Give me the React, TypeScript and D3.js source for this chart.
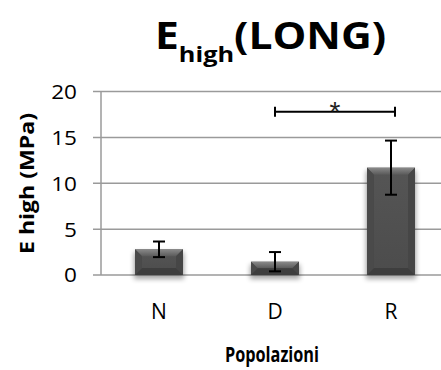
import React from "react";
import * as d3 from "d3";

const categories = ["N", "D", "R"];
const means = [2.8, 1.45, 11.7];
const errors = [0.85, 1.05, 2.95];
const yTicks = [0, 5, 10, 15, 20];
const sigFrom = "D";
const sigTo = "R";
const sigLevel = 17.8;
const sigLabel = "*";

const W = 441;
const H = 370;

export default function App() {
  const y = d3.scaleLinear().domain([0, 20]).range([275, 91.5]);
  const x = d3
    .scaleBand<string>()
    .domain(categories)
    .range([101, 449])
    .paddingInner(0.586)
    .paddingOuter(0.293);
  const bw = x.bandwidth();
  const bev = 7;
  const font = "'Open Sans', sans-serif";

  return (
    <svg width={W} height={H} style={{ display: "block", position: "absolute", left: 0, top: 0 }}>
      <defs>
        <filter id="shadow" x="-30%" y="-30%" width="160%" height="160%">
          <feGaussianBlur stdDeviation="2.5" />
        </filter>
        <linearGradient id="topBev" x1="0" y1="0" x2="0" y2="1">
          <stop offset="0" stopColor="#8a8a8a" />
          <stop offset="1" stopColor="#5a5a5a" />
        </linearGradient>
        <linearGradient id="body" x1="0" y1="0" x2="0" y2="1">
          <stop offset="0" stopColor="#555" />
          <stop offset="1" stopColor="#4c4c4c" />
        </linearGradient>
      </defs>
      <rect width={W} height={H} fill="#fff" />
      {/* title */}
      <g transform="translate(155,49) scale(1.15,1)">
        <text x={0} y={0} fontFamily={font} fontWeight="bold" fontSize={37} fill="#000">
          E
          <tspan fontSize={22} dy={13}>high</tspan>
          <tspan dy={-13}>(LONG)</tspan>
        </text>
      </g>
      {/* gridlines */}
      {yTicks.map((t) => (
        <g key={t}>
          <line x1={93} x2={W} y1={y(t)} y2={y(t)} stroke="#9a9a9a" strokeWidth={1.5} />
          <g transform={`translate(77,${y(t)}) scale(1.1,1)`}>
            <text x={0} y={0} dy="0.36em" textAnchor="end" fontFamily={font} fontSize={20.5} fill="#000">
              {t}
            </text>
          </g>
        </g>
      ))}
      <line x1={101} x2={101} y1={y(20)} y2={y(0)} stroke="#9a9a9a" strokeWidth={1.5} />
      {/* bars */}
      {categories.map((c, i) => {
        const x0 = x(c)!;
        const x1 = x0 + bw;
        const yt = y(means[i]);
        const yb = y(0);
        const b = Math.min(bev, (yb - yt) / 2);
        return (
          <g key={c}>
            <rect x={x0 - 1} y={yt + 3} width={bw + 2} height={yb - yt + 1} fill="#000" opacity={0.35} filter="url(#shadow)" />
            <rect x={x0} y={yt} width={bw} height={yb - yt} fill="url(#body)" />
            <polygon points={`${x0},${yt} ${x1},${yt} ${x1 - b},${yt + b} ${x0 + b},${yt + b}`} fill="url(#topBev)" />
            <polygon points={`${x0},${yt} ${x0 + b},${yt + b} ${x0 + b},${yb - b} ${x0},${yb}`} fill="#4a4a4a" />
            <polygon points={`${x1},${yt} ${x1 - b},${yt + b} ${x1 - b},${yb - b} ${x1},${yb}`} fill="#464646" />
            <polygon points={`${x0},${yb} ${x0 + b},${yb - b} ${x1 - b},${yb - b} ${x1},${yb}`} fill="#3e3e3e" />
          </g>
        );
      })}
      {/* error bars */}
      {categories.map((c, i) => {
        const cx = x(c)! + bw / 2;
        const yh = y(means[i] + errors[i]);
        const yl = y(Math.max(0, means[i] - errors[i]));
        return (
          <g key={"e" + c} stroke="#000" strokeWidth={2}>
            <line x1={cx} x2={cx} y1={yh} y2={yl} />
            <line x1={cx - 6} x2={cx + 6} y1={yh} y2={yh} />
            <line x1={cx - 6} x2={cx + 6} y1={yl} y2={yl} />
          </g>
        );
      })}
      {/* significance */}
      {(() => {
        const xa = x(sigFrom)! + bw / 2;
        const xb = x(sigTo)! + bw / 2 + 4;
        const ys = y(sigLevel);
        return (
          <g>
            <g stroke="#000" strokeWidth={2}>
              <line x1={xa} x2={xb} y1={ys} y2={ys} />
              <line x1={xa} x2={xa} y1={ys - 5} y2={ys + 5} />
              <line x1={xb} x2={xb} y1={ys - 5} y2={ys + 5} />
            </g>
            <text x={(xa + xb) / 2} y={ys + 9} textAnchor="middle" fontFamily="'Liberation Sans', sans-serif" fontSize={28} fill="#222">
              {sigLabel}
            </text>
          </g>
        );
      })()}
      {/* x tick labels */}
      {categories.map((c) => (
        <text key={"t" + c} x={x(c)! + bw / 2} y={311} dy="0.36em" textAnchor="middle" fontFamily={font} fontSize={21} fill="#000">
          {c}
        </text>
      ))}
      <text
        x={272}
        y={362}
        textAnchor="middle"
        fontFamily={font}
        fontWeight="bold"
        fontSize={21}
        textLength={94}
        lengthAdjust="spacingAndGlyphs"
        fill="#000"
      >
        Popolazioni
      </text>
      <text
        transform={`translate(34,${183.5}) rotate(-90)`}
        textAnchor="middle"
        fontFamily={font}
        fontWeight="bold"
        fontSize={19.5}
        textLength={141}
        lengthAdjust="spacingAndGlyphs"
        fill="#000"
      >
        E high (MPa)
      </text>
    </svg>
  );
}
